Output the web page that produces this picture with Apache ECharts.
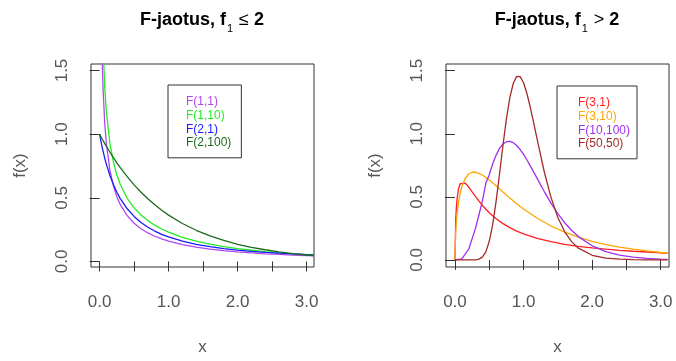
<!DOCTYPE html>
<html>
<head>
<meta charset="utf-8">
<script src="https://cdn.jsdelivr.net/npm/echarts@6/dist/echarts.min.js"></script>
<style>
  html, body { margin: 0; padding: 0; background: #fff; }
  #chart { width: 676px; height: 361px; }
</style>
</head>
<body>
<div id="chart"></div>
<script>
// left panel: f1 <= 2
const xLeft = [0, 0.02, 0.03, 0.04, 0.05, 0.075, 0.1, 0.15, 0.2, 0.25, 0.3, 0.4, 0.5, 0.6, 0.7, 0.8, 0.9, 1.0,
  1.2, 1.4, 1.6, 1.8, 2.0, 2.2, 2.4, 2.6, 2.8, 3.0, 3.1];
const yF1_1 = [null, 2.21, 1.784, 1.530, 1.356, 1.081, 0.915, 0.715, 0.593, 0.509, 0.447, 0.360, 0.300, 0.257, 0.224,
  0.198, 0.177, 0.159, 0.132, 0.112, 0.097, 0.085, 0.075, 0.067, 0.060, 0.055, 0.050, 0.046, 0.044];
const yF1_10 = [null, 2.721, 2.210, 1.903, 1.693, 1.364, 1.165, 0.926, 0.780, 0.679, 0.604, 0.496, 0.421, 0.365, 0.321,
  0.285, 0.255, 0.230, 0.190, 0.160, 0.136, 0.117, 0.101, 0.088, 0.077, 0.068, 0.060, 0.053, 0.050];
const yF2_1 = [1.0, 0.943, 0.916, 0.891, 0.867, 0.811, 0.761, 0.675, 0.604, 0.544, 0.494, 0.414, 0.354, 0.306, 0.269,
  0.239, 0.213, 0.193, 0.160, 0.135, 0.116, 0.101, 0.089, 0.080, 0.072, 0.065, 0.059, 0.054, 0.052];
const yF2_100 = [1.0, 0.980, 0.970, 0.960, 0.950, 0.926, 0.903, 0.858, 0.816, 0.775, 0.737, 0.666, 0.602, 0.544, 0.492,
  0.445, 0.403, 0.364, 0.298, 0.245, 0.201, 0.165, 0.135, 0.111, 0.092, 0.075, 0.062, 0.051, 0.047];

// right panel: f1 > 2
const xRightA = [0, 0.01, 0.02, 0.03, 0.05, 0.075, 0.1, 0.15, 0.2, 0.25, 0.3, 0.4, 0.5, 0.6, 0.7, 0.8, 0.9, 1.0,
  1.2, 1.4, 1.6, 1.8, 2.0, 2.2, 2.4, 2.6, 2.8, 3.0, 3.1];
const yF3_1 = [0, 0.312, 0.416, 0.482, 0.559, 0.604, 0.619, 0.609, 0.578, 0.540, 0.502, 0.432, 0.374, 0.327, 0.288,
  0.256, 0.229, 0.207, 0.171, 0.145, 0.124, 0.108, 0.096, 0.085, 0.076, 0.069, 0.063, 0.057, 0.055];
const yF3_10 = [0, 0.218, 0.303, 0.363, 0.451, 0.527, 0.580, 0.647, 0.681, 0.695, 0.696, 0.673, 0.634, 0.588, 0.539,
  0.491, 0.446, 0.404, 0.330, 0.269, 0.220, 0.180, 0.148, 0.122, 0.102, 0.085, 0.071, 0.059, 0.055];
const xRightB = [0, 0.1, 0.2, 0.3, 0.35, 0.4, 0.45, 0.5, 0.55, 0.6, 0.65, 0.7, 0.75, 0.8, 0.85, 0.9, 0.95, 1.0,
  1.05, 1.1, 1.15, 1.2, 1.3, 1.4, 1.5, 1.6, 1.7, 1.8, 2.0, 2.2, 2.4, 2.6, 2.8, 3.0, 3.1];
const yF10_100 = [0, 0.009, 0.085, 0.252, 0.358, 0.468, 0.607, 0.675, 0.762, 0.831, 0.884, 0.919, 0.937, 0.940, 0.929,
  0.907, 0.875, 0.836, 0.792, 0.744, 0.694, 0.644, 0.544, 0.450, 0.367, 0.295, 0.235, 0.185, 0.112, 0.066, 0.038,
  0.022, 0.012, 0.007, 0.005];
const yF50_50 = [0, 0, 0, 0.001, 0.006, 0.022, 0.064, 0.148, 0.282, 0.466, 0.683, 0.909, 1.118, 1.286, 1.400,
  1.455, 1.453, 1.404, 1.317, 1.206, 1.080, 0.951, 0.703, 0.496, 0.337, 0.223, 0.145, 0.093, 0.037, 0.014, 0.006,
  0.002, 0.001, 0.0004, 0.0002];

const xTicks = [0, 0.5, 1, 1.5, 2, 2.5, 3];
const xLabels = [0, 1, 2, 3];
const yTicks = [0, 0.5, 1, 1.5];

const FONT = 'Liberation Sans, Arial, sans-serif';
const INK = '#333';
const LABEL = '#555';

const pairs = (xs, ys) => xs.map((x, i) => [x, ys[i]]);

const chart = echarts.init(document.getElementById('chart'), null, { renderer: 'canvas' });

function xAxisFor(gridIndex, min, max) {
  return {
    type: 'value', gridIndex, min, max,
    axisLine: { show: false },
    splitLine: { show: false },
    axisTick: { show: true, customValues: xTicks, length: 10, lineStyle: { color: INK, width: 1 } },
    axisLabel: {
      customValues: xLabels, formatter: (v) => v.toFixed(1),
      margin: 27, fontSize: 17, color: LABEL, fontFamily: FONT,
    },
    name: 'x', nameLocation: 'middle', nameGap: 72,
    nameTextStyle: { fontSize: 17, color: LABEL, fontFamily: FONT },
  };
}

function yAxisFor(gridIndex, min, max) {
  return {
    type: 'value', gridIndex, min, max,
    axisLine: { show: false },
    splitLine: { show: false },
    axisTick: { show: true, customValues: yTicks, length: 10, lineStyle: { color: INK, width: 1 } },
    axisLabel: {
      customValues: yTicks, formatter: (v) => v.toFixed(1), rotate: 90,
      margin: 20, fontSize: 17, color: LABEL, fontFamily: FONT,
    },
    name: 'f(x)', nameLocation: 'middle', nameGap: 62,
    nameTextStyle: { fontSize: 17, color: LABEL, fontFamily: FONT },
  };
}

function curve(name, xs, ys, color, xi) {
  return {
    name, type: 'line', xAxisIndex: xi, yAxisIndex: xi,
    data: pairs(xs, ys), showSymbol: false, smooth: false,
    lineStyle: { color, width: 1.3 }, itemStyle: { color },
    emphasis: { disabled: true },
  };
}

function legendFor(items, left, top, padding) {
  return {
    orient: 'vertical', left, top, padding,
    icon: 'none', itemWidth: 0, itemHeight: 12, itemGap: 1.6,
    borderColor: INK, borderWidth: 1,
    selectedMode: false,
    textStyle: { fontSize: 12, fontFamily: FONT },
    data: items.map(([name, color]) => ({ name, textStyle: { color } })),
  };
}

const titleRich = {
  a: { fontSize: 18, fontWeight: 'bold', fontFamily: FONT, fill: '#000', lineHeight: 22 },
  s: { fontSize: 11, fontFamily: FONT, fill: '#000', verticalAlign: 'bottom', lineHeight: 11, padding: [0, 1, -3, 1] },
  r: { fontSize: 18, fontFamily: FONT, fill: '#000', lineHeight: 22 },
};

const leftItems = [['F(1,1)', '#b048f0'], ['F(1,10)', '#22ee22'], ['F(2,1)', '#1a1aff'], ['F(2,100)', '#1b6b1b']];
const rightItems = [['F(3,1)', '#ff2020'], ['F(3,10)', '#ffa500'], ['F(10,100)', '#a030f0'], ['F(50,50)', '#a52a2a']];

chart.setOption({
  animation: false,
  backgroundColor: '#fff',
  grid: [
    { left: 91, top: 64, width: 223, height: 210, show: true, borderColor: INK, borderWidth: 1, backgroundColor: 'transparent' },
    { left: 446, top: 64, width: 223, height: 211, show: true, borderColor: INK, borderWidth: 1, backgroundColor: 'transparent' },
  ],
  xAxis: [xAxisFor(0, -0.1245, 3.107), xAxisFor(1, -0.131, 3.121)],
  yAxis: [yAxisFor(0, -0.0434, 1.551), yAxisFor(1, -0.056, 1.553)],
  legend: [
    legendFor(leftItems, 168, 85, [11, 10, 9, 13]),
    legendFor(rightItems, 557, 86, [11, 7, 9, 16]),
  ],
  graphic: [
    { type: 'text', x: 202, y: 20, style: { text: '{a|F-jaotus, f}{s|1}{r| ≤ }{a|2}', rich: titleRich, align: 'center', verticalAlign: 'middle' } },
    { type: 'text', x: 557, y: 20, style: { text: '{a|F-jaotus, f}{s|1}{r| > }{a|2}', rich: titleRich, align: 'center', verticalAlign: 'middle' } },
  ],
  series: [
    curve('F(1,1)', xLeft, yF1_1, leftItems[0][1], 0),
    curve('F(1,10)', xLeft, yF1_10, leftItems[1][1], 0),
    curve('F(2,1)', xLeft, yF2_1, leftItems[2][1], 0),
    curve('F(2,100)', xLeft, yF2_100, leftItems[3][1], 0),
    curve('F(3,1)', xRightA, yF3_1, rightItems[0][1], 1),
    curve('F(3,10)', xRightA, yF3_10, rightItems[1][1], 1),
    curve('F(10,100)', xRightB, yF10_100, rightItems[2][1], 1),
    curve('F(50,50)', xRightB, yF50_50, rightItems[3][1], 1),
  ],
});
</script>
</body>
</html>
